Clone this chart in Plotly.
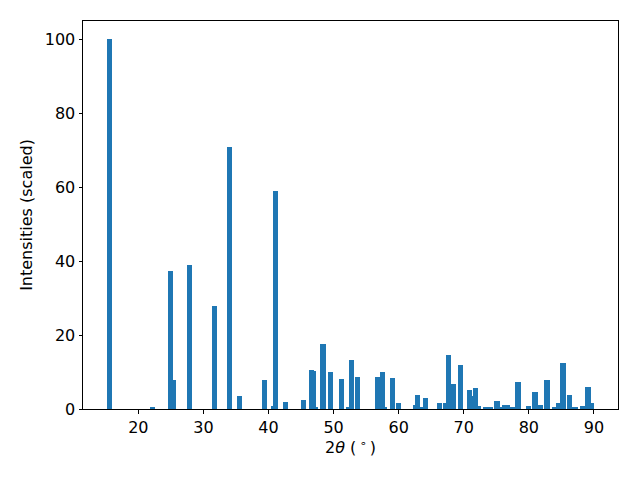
import plotly.graph_objects as go

two_theta = [15.63, 22.22, 24.98, 25.44, 27.82, 31.73, 34.03, 35.57, 39.40, 40.78, 41.09,
             42.62, 45.38, 46.62, 46.92, 47.25, 48.37, 49.52, 51.21, 52.30, 52.75, 53.67,
             56.73, 57.50, 57.85, 59.03, 59.95, 62.65, 62.87, 63.40, 64.10, 66.24, 67.20,
             67.60, 68.40, 69.50, 70.85, 71.40, 71.75, 72.20, 73.30, 74.05, 75.10, 75.45,
             76.30, 76.70, 77.40, 78.35, 79.90, 80.95, 81.70, 82.80, 83.90, 84.60, 85.25,
             86.20, 87.10, 88.30, 89.10, 89.60]
intensity = [100.0, 0.5, 37.4, 7.9, 39.0, 27.9, 71.0, 3.5, 7.9, 0.8, 59.0,
             1.9, 2.4, 10.6, 10.4, 0.5, 17.6, 10.0, 8.1, 0.3, 13.3, 8.7,
             8.7, 10.0, 0.5, 8.4, 1.6, 1.1, 3.8, 0.5, 3.0, 1.6, 1.6,
             14.6, 6.8, 11.9, 5.1, 3.5, 5.7, 0.8, 0.3, 0.5, 2.2, 0.3,
             1.1, 1.1, 0.5, 7.3, 0.8, 4.6, 1.1, 7.9, 0.3, 1.6, 12.5,
             3.8, 0.3, 0.8, 6.0, 1.6]

x_ticks = [20, 30, 40, 50, 60, 70, 80, 90]
y_ticks = [0, 20, 40, 60, 80, 100]

fig = go.Figure(go.Bar(x=two_theta, y=intensity, width=0.8,
                       marker=dict(color="#1f77b4", line=dict(width=0))))

axis_common = dict(showline=True, linecolor="black", linewidth=1, mirror=True,
                   ticks="outside", ticklen=3.5, tickwidth=0.8, tickcolor="black",
                   showgrid=False, zeroline=False,
                   tickfont=dict(family="DejaVu Sans", size=16, color="black"))

fig.update_layout(
    width=632, height=472,
    margin=dict(l=75, r=22, t=13, b=71),
    plot_bgcolor="white", paper_bgcolor="white",
    showlegend=False, bargap=0,
    font=dict(family="DejaVu Sans", size=16, color="black"),
    xaxis=dict(range=[11.5, 93.7], tickvals=x_ticks,
               title=dict(text="2<i>θ</i> (\u2009<sup>∘</sup>\u2009)", standoff=6,
                          font=dict(family="DejaVu Sans", size=16)),
               **axis_common),
    yaxis=dict(range=[0, 105], tickvals=y_ticks,
               title=dict(text="Intensities (scaled)", standoff=8,
                          font=dict(family="DejaVu Sans", size=16)),
               **axis_common),
)

fig.write_html("out.html")
